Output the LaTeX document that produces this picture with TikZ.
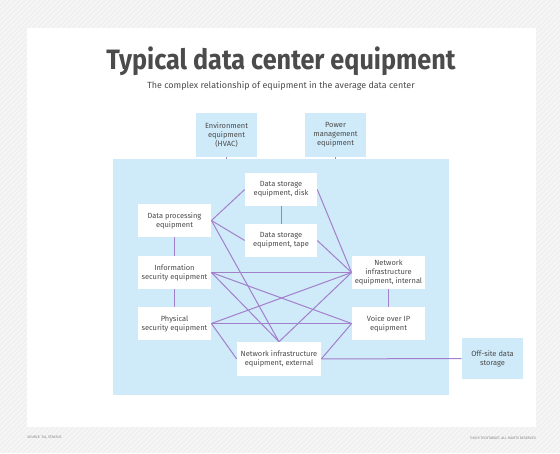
\documentclass[tikz,border=0pt]{standalone}
\usepackage{fontspec}
\setmainfont{Fira Sans}
\newfontfamily\titlefont[FakeStretch=0.9]{Fira Sans}
\definecolor{txtgray}{RGB}{75,75,75}
\definecolor{boxblue}{RGB}{207,234,249}
\definecolor{linkpurple}{RGB}{163,128,204}
\definecolor{bggray}{RGB}{240,240,240}
\tikzset{
  dcbox/.style={draw=none,fill=white,align=center,inner sep=1pt,text=txtgray,font=\fontsize{5.6}{6.8}\selectfont},
  outbox/.style={dcbox,fill=boxblue},
  link/.style={draw=linkpurple,line width=0.75pt}
}
\begin{document}
\begin{tikzpicture}[x=0.75pt,y=0.75pt,yscale=-1,xscale=1]
\useasboundingbox (0,0) rectangle (560,453);
% page background
\fill[bggray] (0,0) rectangle (560,453);
\begin{scope}
\clip (0,0) rectangle (560,453);
\foreach \i in {-460,-455,...,560}
  \draw[white!60!bggray,line width=0.6pt] (\i,453) -- (\i+453,0);
\end{scope}
\fill[white] (27,28) rectangle (536,427);
% title
\node[text=txtgray,font=\titlefont\bfseries\fontsize{21}{24}\selectfont] (title) at (281,61) {Typical data center equipment};
\node[text=txtgray,font=\fontsize{6.7}{8}\selectfont] (subtitle) at (281,86) {The complex relationship of equipment in the average data center};
% data center area
\node[fill=boxblue,minimum width=252pt,minimum height=177pt,inner sep=0pt] (dc) at (281,277) {};
% outside equipment
\node[outbox,minimum width=46pt,minimum height=33pt] (env) at (226.5,135) {Environment\\equipment\\(HVAC)};
\node[outbox,minimum width=46pt,minimum height=33pt] (power) at (335.5,135) {Power\\management\\equipment};
\node[outbox,minimum width=46pt,minimum height=31pt] (offsite) at (492.5,358.5) {Off-site data\\storage};
% inside equipment
\node[dcbox,minimum width=55pt,minimum height=25pt] (proc) at (174.5,220.5) {Data processing\\equipment};
\node[dcbox,minimum width=55pt,minimum height=25pt] (infosec) at (174.5,272.5) {Information\\security equipment};
\node[dcbox,minimum width=55pt,minimum height=25pt] (physsec) at (174.5,323.5) {Physical\\security equipment};
\node[dcbox,minimum width=54pt,minimum height=25pt] (disk) at (281,189.5) {Data storage\\equipment, disk};
\node[dcbox,minimum width=54pt,minimum height=25pt] (tape) at (281,240.5) {Data storage\\equipment, tape};
\node[dcbox,minimum width=55pt,minimum height=25pt] (netint) at (388.5,272.5) {Network\\infrastructure\\equipment, internal};
\node[dcbox,minimum width=55pt,minimum height=25pt] (voip) at (388.5,323.5) {Voice over IP\\equipment};
\node[dcbox,minimum width=63pt,minimum height=25.5pt] (netext) at (279,359) {Network infrastructure\\equipment, external};
% links
\draw[link] (env) -- (env |- dc.north);
\draw[link] (power) -- (power |- dc.north);
\draw[link] (disk) -- (tape);
\draw[link] (proc) -- (infosec);
\draw[link] (infosec) -- (physsec);
\draw[link] (netint) -- (voip);
\draw[link] (netext) -- (offsite);
\draw[link] (proc.east) -- (disk.west);
\draw[link] (proc.east) -- (tape.west);
\draw[link] (proc.east) -- (netext.north);
\draw[link] (infosec.east) -- (netint.west);
\draw[link] (infosec.east) -- (voip.west);
\draw[link] (infosec.east) -- (netext.north);
\draw[link] (physsec.east) -- (netint.west);
\draw[link] (physsec.east) -- (voip.west);
\draw[link] (physsec.east) -- (netext.west);
\draw[link] (disk.east) -- (netint.west);
\draw[link] (tape.east) -- (netint.west);
\draw[link] (netext.north) -- (netint.west);
\draw[link] (netext.east) -- (voip.west);
% footer
\node[anchor=west,text=gray,font=\fontsize{2.6}{3}\selectfont,inner sep=0pt] (source) at (27,438) {SOURCE: TIA, STRATUS};
\node[anchor=east,text=gray,font=\fontsize{2.6}{3}\selectfont,inner sep=0pt] (copyright) at (536,438) {©2019 TECHTARGET. ALL RIGHTS RESERVED};
\end{tikzpicture}
\end{document}
